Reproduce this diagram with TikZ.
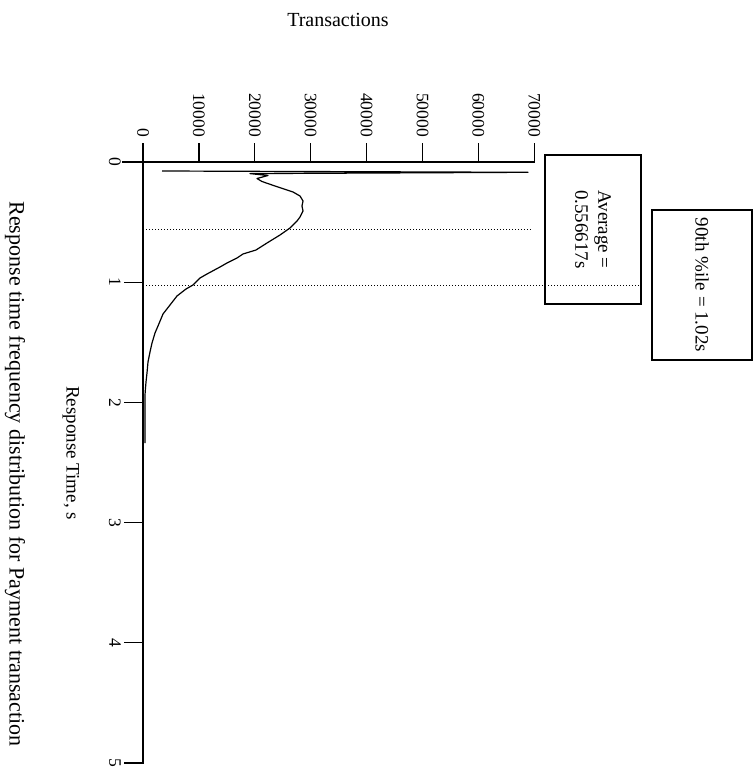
\documentclass[tikz,border=0pt]{standalone}
\usepackage{fontspec}
\setmainfont{Liberation Serif}
\begin{document}
\begin{tikzpicture}[x=1pt,y=-1pt,
  axisline/.style={line width=1.3pt, line cap=rect},
  tickline/.style={line width=1.3pt},
  curveline/.style={line width=1.2pt, line join=round},
  dotline/.style={line width=0.9pt, dash pattern=on 0.9pt off 2.1pt},
  boxline/.style={draw, line width=1.2pt},
  vlabel/.style={rotate=-90, anchor=east, inner sep=0pt, font=\fontsize{17.5}{20}\selectfont},
  tlabel/.style={rotate=-90, anchor=north, inner sep=0pt, font=\fontsize{17.5}{20}\selectfont},
  boxtext/.style={rotate=-90, align=center, inner sep=0pt, font=\fontsize{19}{23}\selectfont}]
\useasboundingbox (0,0) rectangle (755,771);
% axes
\coordinate (o) at (143,162);
\coordinate (vend) at (534,162);
\coordinate (tend) at (143,763);
\draw[axisline] (123,162) -- (vend);
\draw[axisline] (o) -- (tend);
% value ticks
\foreach \v [count=\i from 0] in {0,10000,20000,30000,40000,50000,60000,70000}{
  \coordinate (vt\i) at ({143+\i*55.9},162);
  \draw[tickline] (vt\i) -- ++(0,-19);
  \node[vlabel] (vl\i) at ({143+\i*55.9},137) {\v};
}
% time ticks
\foreach \t in {0,1,2,3,4,5}{
  \coordinate (tt\t) at (143,{162+\t*120.2});
  \draw[tickline] (tt\t) -- ++(-19,0);
  \node[tlabel] (tl\t) at (121,{162+\t*120.2}) {\t};
}
% dotted lines
\draw[dotline] (146,229) -- (532,229);
\draw[dotline] (146,285) -- (641,285);
% curve
\draw[curveline] (162,171) -- (528,172.3) -- (250,173.6) -- (268,175.5) -- (257,178.5) -- (262,181.5)
  -- (277,186.7) -- (293,192) -- (300,196) -- (303,201) -- (302,206) -- (303,211) -- (300,217)
  -- (297,221) -- (290,228) -- (280,235) -- (267,243) -- (256,250) -- (243,254) -- (237,258)
  -- (227,263) -- (220,267) -- (207,274) -- (200,278) -- (193,285) -- (186,289) -- (177,296)
  -- (170,305) -- (163,314) -- (158,326) -- (155,333) -- (152,343) -- (150,352) -- (148,362)
  -- (147,373) -- (146,382) -- (145.5,388) -- (145,395) -- (145,443);
% boxes
\node[boxline, minimum width=96pt, minimum height=149pt, inner sep=0pt] (avgbox) at (593,229.5) {};
\node[boxtext] (avgtext) at (avgbox.center) {Average =\\0.556617s};
\node[boxline, minimum width=100pt, minimum height=150pt, inner sep=0pt] (pctbox) at (702,285) {};
\node[boxtext] (pcttext) at (pctbox.center) {90th \%ile = 1.02s};
% titles
\node[inner sep=0pt, font=\fontsize{20}{24}\selectfont] (ytitle) at (338,20) {Transactions};
\node[rotate=-90, inner sep=0pt, font=\fontsize{19}{23}\selectfont] (xtitle) at (71,453) {Response Time, s};
\node[rotate=-90, inner sep=0pt, font=\fontsize{22}{26}\selectfont] (caption) at (15,474) {Response time frequency distribution for Payment transaction};
\end{tikzpicture}
\end{document}
